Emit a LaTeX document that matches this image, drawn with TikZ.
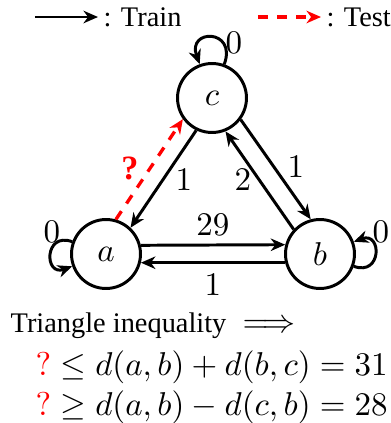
\documentclass[tikz,border=0pt]{standalone}
\usepackage{amsmath}
\usepackage[no-math]{fontspec}
\setmainfont{Liberation Serif}[Scale=0.86]
\usetikzlibrary{arrows.meta}
\begin{document}
\begin{tikzpicture}[x=0.303pt,y=0.303pt,
  st/.style={circle,draw,line width=0.9pt,minimum size=20.9pt,inner sep=0pt},
  tip/.style={-{Stealth[length=4.4pt,width=3.8pt,inset=1.4pt]}},
  train/.style={line width=0.9pt,tip},
  test/.style={line width=1pt,red,dash pattern=on 3pt off 2.8pt,tip},
  lbl/.style={inner sep=0pt},
  txt/.style={anchor=base west,inner sep=0pt}]
\useasboundingbox (0,0) rectangle (391,-423);
% legend
\coordinate (l1s) at (35,-17);
\node[anchor=west,inner xsep=1.5pt,inner ysep=0pt] (l1t) at (98,-17) {: Train};
\draw[train] (l1s) -- (l1t.west);
\coordinate (l2s) at (258,-17);
\node[anchor=west,inner xsep=1.5pt,inner ysep=0pt] (l2t) at (321,-17) {: Test};
\draw[test] (l2s) -- (l2t.west);
% states
\node[st] (c) at (212,-98) {$c$};
\node[st] (a) at (106,-254) {$a$};
\node[st] (b) at (320,-254) {$b$};
% edges
\draw[train] (c.244.3) -- (a.47.3);
\draw[test] (a.74.7) -- (c.216.9);
\draw[train] (b.137.3) -- (c.292.1);
\draw[train] (c.323.6) -- (b.105.8);
\draw[train] (a.14.5) -- (b.165.5);
\draw[train] (b.194.5) -- (a.-14.5);
% loops
\draw[train] (c.70) .. controls +(70:38) and +(110:38) .. (c.110);
\draw[train] (a.160) .. controls +(160:30) and +(200:30) .. (a.200);
\draw[train] (b.-20) .. controls +(-20:30) and +(20:30) .. (b.20);
% labels
\node[lbl] (lca) at (184,-180) {$1$};
\node[lbl,red] (lac) at (130,-168) {\large\textbf{?}};
\node[lbl] (lbc) at (243,-180) {$2$};
\node[lbl] (lcb) at (296,-167) {$1$};
\node[lbl] (lab) at (213,-225) {$29$};
\node[lbl] (lba) at (213,-285) {$1$};
\node[lbl] (lcc) at (234,-43) {$0$};
\node[lbl] (laa) at (52,-232) {$0$};
\node[lbl] (lbb) at (381,-232) {$0$};
% text
\node[txt] (t1) at (10,-332) {Triangle inequality $\implies$};
\node[txt] (t2) at (35,-375) {$\textcolor{red}{?}\leq d(a,b)+d(b,c)=31$};
\node[txt] (t3) at (35,-415) {$\textcolor{red}{?}\geq d(a,b)-d(c,b)=28$};
\end{tikzpicture}
\end{document}
